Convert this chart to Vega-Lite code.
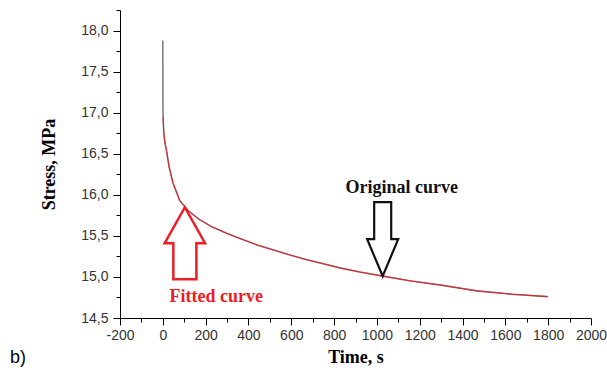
{
  "$schema": "https://vega.github.io/schema/vega-lite/v6.json",
  "width": 471,
  "height": 308,
  "autosize": "none",
  "padding": {"left": 120, "top": 10, "right": 16, "bottom": 52},
  "background": "white",
  "config": {
    "view": {"stroke": null},
    "axis": {
      "grid": false,
      "domainColor": "#000",
      "tickColor": "#000",
      "domainWidth": 1,
      "tickWidth": 1,
      "labelFont": "Liberation Sans",
      "labelFontSize": 14,
      "labelColor": "#333",
      "titleFont": "Liberation Serif",
      "titleFontWeight": "bold",
      "titleFontSize": 18,
      "titleColor": "#000"
    }
  },
  "datasets": {
    "original": [
      {"t": 0, "stress": 17.88},
      {"t": 0.3, "stress": 17.3},
      {"t": 1, "stress": 16.95},
      {"t": 5, "stress": 16.74},
      {"t": 10, "stress": 16.63},
      {"t": 17, "stress": 16.54},
      {"t": 30, "stress": 16.33},
      {"t": 48, "stress": 16.14},
      {"t": 79, "stress": 15.93},
      {"t": 117, "stress": 15.81},
      {"t": 170, "stress": 15.7},
      {"t": 229, "stress": 15.61},
      {"t": 300, "stress": 15.53},
      {"t": 369, "stress": 15.46},
      {"t": 440, "stress": 15.39},
      {"t": 514, "stress": 15.33},
      {"t": 590, "stress": 15.27},
      {"t": 672, "stress": 15.21},
      {"t": 750, "stress": 15.16},
      {"t": 827, "stress": 15.11},
      {"t": 920, "stress": 15.06},
      {"t": 1028, "stress": 15.01},
      {"t": 1160, "stress": 14.95},
      {"t": 1300, "stress": 14.9},
      {"t": 1467, "stress": 14.83},
      {"t": 1630, "stress": 14.79},
      {"t": 1798, "stress": 14.76}
    ],
    "fitted": [
      {"t": 1, "stress": 16.95},
      {"t": 5, "stress": 16.74},
      {"t": 10, "stress": 16.63},
      {"t": 17, "stress": 16.54},
      {"t": 30, "stress": 16.33},
      {"t": 48, "stress": 16.14},
      {"t": 79, "stress": 15.93},
      {"t": 117, "stress": 15.81},
      {"t": 170, "stress": 15.7},
      {"t": 229, "stress": 15.61},
      {"t": 300, "stress": 15.53},
      {"t": 369, "stress": 15.46},
      {"t": 440, "stress": 15.39},
      {"t": 514, "stress": 15.33},
      {"t": 590, "stress": 15.27},
      {"t": 672, "stress": 15.21},
      {"t": 750, "stress": 15.16},
      {"t": 827, "stress": 15.11},
      {"t": 920, "stress": 15.06},
      {"t": 1028, "stress": 15.01},
      {"t": 1160, "stress": 14.95},
      {"t": 1300, "stress": 14.9},
      {"t": 1467, "stress": 14.83},
      {"t": 1630, "stress": 14.79},
      {"t": 1798, "stress": 14.76}
    ],
    "arrows": [
      {"t": 1027, "stress": 15.46, "kind": "down"},
      {"t": 103, "stress": 15.41, "kind": "up"}
    ],
    "labels": [
      {"t": 1116, "stress": 16.08, "text": "Original curve", "kind": "orig"},
      {"t": 250, "stress": 14.76, "text": "Fitted curve", "kind": "fit"}
    ],
    "panel": [
      {"t": -677, "stress": 14.01, "text": "b)"}
    ]
  },
  "layer": [
    {
      "data": {"name": "original"},
      "mark": {"type": "line", "strokeWidth": 1.6, "color": "#808080", "clip": true},
      "encoding": {
        "x": {
          "field": "t", "type": "quantitative",
          "scale": {"domain": [-200, 2000], "nice": false, "zero": false},
          "axis": {
            "values": [-200, 0, 200, 400, 600, 800, 1000, 1200, 1400, 1600, 1800, 2000],
            "labelExpr": "'' + datum.value",
            "tickSize": 7, "labelPadding": 3, "title": "Time, s", "titlePadding": 6,
            "labelFlush": false, "labelOverlap": false
          }
        },
        "y": {
          "field": "stress", "type": "quantitative",
          "scale": {"domain": [14.5, 18.25], "nice": false, "zero": false},
          "axis": {
            "values": [14.5, 15, 15.5, 16, 16.5, 17, 17.5, 18],
            "labelExpr": "replace(format(datum.value, '.1f'), '.', ',')",
            "tickSize": 7, "labelPadding": 5, "title": "Stress, MPa", "titlePadding": 22,
            "labelFlush": false, "labelOverlap": false
          }
        },
        "order": {"field": "t", "type": "quantitative"}
      }
    },
    {
      "data": {"name": "fitted"},
      "mark": {"type": "line", "strokeWidth": 1, "color": "#e8202a", "clip": true},
      "encoding": {
        "x": {"field": "t", "type": "quantitative", "scale": {"domain": [-200, 2000], "nice": false, "zero": false}, "axis": null},
        "y": {"field": "stress", "type": "quantitative", "scale": {"domain": [14.5, 18.25], "nice": false, "zero": false}, "axis": null},
        "order": {"field": "t", "type": "quantitative"}
      }
    },
    {
      "data": {"name": "arrows"},
      "transform": [{"filter": "datum.kind === 'down'"}],
      "mark": {
        "type": "point", "filled": false, "size": 5476, "strokeWidth": 2.2, "color": "#111", "opacity": 1,
        "shape": "M -0.23 -1 L 0.23 -1 L 0.23 0 L 0.42 0 L 0 1 L -0.42 0 L -0.23 0 Z"
      },
      "encoding": {
        "x": {"field": "t", "type": "quantitative", "scale": {"domain": [-200, 2000], "nice": false, "zero": false}, "axis": null},
        "y": {"field": "stress", "type": "quantitative", "scale": {"domain": [14.5, 18.25], "nice": false, "zero": false}, "axis": null}
      }
    },
    {
      "data": {"name": "arrows"},
      "transform": [{"filter": "datum.kind === 'up'"}],
      "mark": {
        "type": "point", "filled": false, "size": 5184, "strokeWidth": 2.5, "color": "#ee1c25", "opacity": 1,
        "shape": "M 0 -1 L 0.56 0 L 0.32 0 L 0.32 1 L -0.32 1 L -0.32 0 L -0.56 0 Z"
      },
      "encoding": {
        "x": {"field": "t", "type": "quantitative", "scale": {"domain": [-200, 2000], "nice": false, "zero": false}, "axis": null},
        "y": {"field": "stress", "type": "quantitative", "scale": {"domain": [14.5, 18.25], "nice": false, "zero": false}, "axis": null}
      }
    },
    {
      "data": {"name": "labels"},
      "mark": {"type": "text", "font": "Liberation Serif", "fontWeight": "bold", "fontSize": 18, "baseline": "middle", "align": "center"},
      "encoding": {
        "x": {"field": "t", "type": "quantitative", "scale": {"domain": [-200, 2000], "nice": false, "zero": false}, "axis": null},
        "y": {"field": "stress", "type": "quantitative", "scale": {"domain": [14.5, 18.25], "nice": false, "zero": false}, "axis": null},
        "text": {"field": "text"},
        "color": {"field": "kind", "type": "nominal", "scale": {"domain": ["orig", "fit"], "range": ["#111", "#ee1c25"]}, "legend": null}
      }
    },
    {
      "data": {"name": "panel"},
      "mark": {"type": "text", "font": "Liberation Sans", "fontSize": 18, "baseline": "middle", "align": "center", "color": "#000"},
      "encoding": {
        "x": {
          "field": "t", "type": "quantitative", "scale": {"domain": [-200, 2000], "nice": false, "zero": false},
          "axis": {
            "orient": "bottom", "values": [-100, 100, 300, 500, 700, 900, 1100, 1300, 1500, 1700, 1900],
            "tickSize": 4, "labels": false, "domain": false, "title": null
          }
        },
        "y": {
          "field": "stress", "type": "quantitative", "scale": {"domain": [14.5, 18.25], "nice": false, "zero": false},
          "axis": {
            "orient": "left", "values": [14.75, 15.25, 15.75, 16.25, 16.75, 17.25, 17.75, 18.25],
            "tickSize": 4, "labels": false, "domain": false, "title": null
          }
        },
        "text": {"field": "text"}
      }
    }
  ],
  "resolve": {"axis": {"x": "independent", "y": "independent"}}
}
